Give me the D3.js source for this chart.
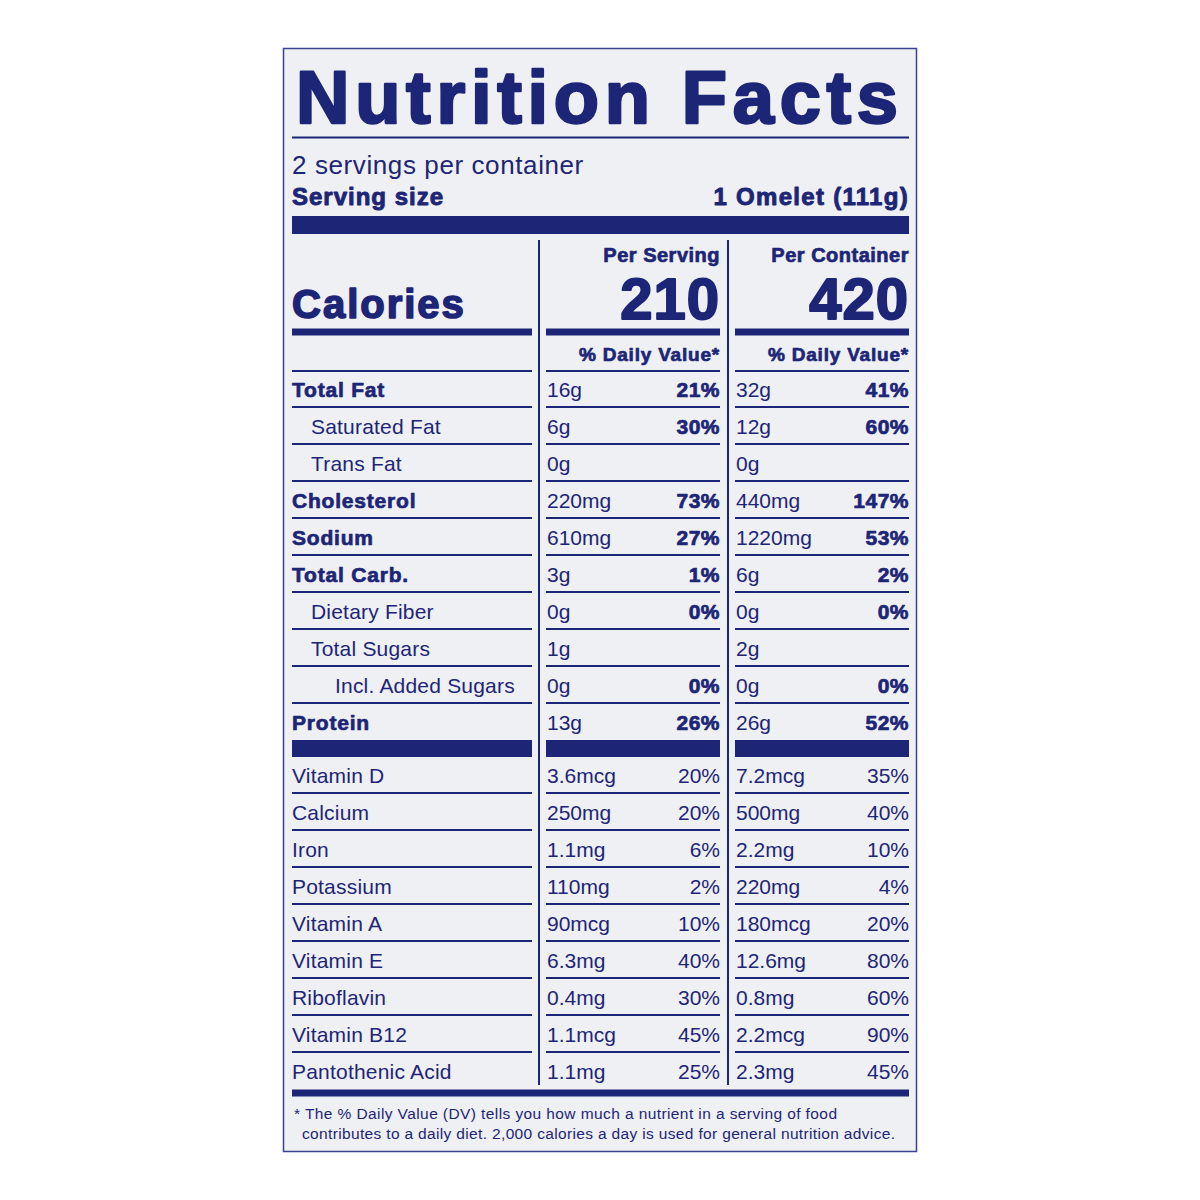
<!DOCTYPE html>
<html lang="en">
<head>
<meta charset="UTF-8">
<script src="https://d3js.org/d3.v7.min.js"></script>
<style>
  body { margin: 0; background: #fff; }
  svg { display: block; }
  text { font-family: "Liberation Sans", Arial, sans-serif; fill: #1d2577; }
</style>
</head>
<body>
<div id="chart"></div>
<script>
  // nutrient rows
  const nutrients = ['Total Fat', 'Saturated Fat', 'Trans Fat', 'Cholesterol', 'Sodium', 'Total Carb.',
    'Dietary Fiber', 'Total Sugars', 'Incl. Added Sugars', 'Protein'];
  const indent = [0, 1, 1, 0, 0, 0, 1, 1, 2, 0];
  const servingAmt = ['16g', '6g', '0g', '220mg', '610mg', '3g', '0g', '1g', '0g', '13g'];
  const servingDV = ['21%', '30%', '', '73%', '27%', '1%', '0%', '', '0%', '26%'];
  const containerAmt = ['32g', '12g', '0g', '440mg', '1220mg', '6g', '0g', '2g', '0g', '26g'];
  const containerDV = ['41%', '60%', '', '147%', '53%', '2%', '0%', '', '0%', '52%'];

  // vitamins & minerals
  const vitamins = ['Vitamin D', 'Calcium', 'Iron', 'Potassium', 'Vitamin A', 'Vitamin E', 'Riboflavin', 'Vitamin B12', 'Pantothenic Acid'];
  const vitServingAmt = ['3.6mcg', '250mg', '1.1mg', '110mg', '90mcg', '6.3mg', '0.4mg', '1.1mcg', '1.1mg'];
  const vitServingDV = ['20%', '20%', '6%', '2%', '10%', '40%', '30%', '45%', '25%'];
  const vitContainerAmt = ['7.2mcg', '500mg', '2.2mg', '220mg', '180mcg', '12.6mg', '0.8mg', '2.2mcg', '2.3mg'];
  const vitContainerDV = ['35%', '40%', '10%', '4%', '20%', '80%', '60%', '90%', '45%'];

  const navy = '#1d2577';
  const svg = d3.select('#chart').append('svg').attr('width', 1200).attr('height', 1200);

  // panel
  svg.append('rect').attr('x', 283.5).attr('y', 48.5).attr('width', 633).attr('height', 1103)
    .attr('fill', '#eff0f4').attr('stroke', '#3a4290').attr('stroke-width', 1.5);

  const L = 292, R = 909;
  const cols = [[292, 532], [546, 720], [735, 909]];

  function line(x1, x2, y, w) {
    svg.append('rect').attr('x', x1).attr('y', y - w / 2).attr('width', x2 - x1).attr('height', w).attr('fill', navy);
  }
  function txt(x, y, s, size, weight, anchor, stroke, spacing) {
    const t = svg.append('text').attr('x', x).attr('y', y).attr('font-size', size)
      .attr('font-weight', weight || 'normal').attr('text-anchor', anchor || 'start').text(s);
    if (stroke) t.style('stroke', navy).style('stroke-width', stroke).style('stroke-linejoin', 'round');
    if (spacing) t.style('letter-spacing', spacing + 'px');
    return t;
  }

  txt(296, 123, 'Nutrition Facts', 74, 'bold', 'start', 2.5).attr('textLength', 602);
  line(L, R, 137.5, 2);
  txt(292, 174, '2 servings per container', 26, 'normal', 'start', 0, 0.6);
  txt(292, 205, 'Serving size', 24, 'bold', 'start', 0.9, 1);
  txt(R, 205, '1 Omelet (111g)', 24, 'bold', 'end', 0.9, 1.3);
  line(L, R, 225, 18);

  // vertical dividers
  [539, 728].forEach(x => svg.append('rect').attr('x', x - 1).attr('y', 240).attr('width', 2).attr('height', 845).attr('fill', navy));

  txt(720, 262, 'Per Serving', 20, 'bold', 'end', 0.7, 0.5);
  txt(909, 262, 'Per Container', 20, 'bold', 'end', 0.7, 0.5);
  txt(292, 318, 'Calories', 40, 'bold', 'start', 1.6, 2);
  txt(720, 319, '210', 58, 'bold', 'end', 2, 1);
  txt(909, 319, '420', 58, 'bold', 'end', 2, 1);
  cols.forEach(c => line(c[0], c[1], 332, 7));
  txt(720, 361, '% Daily Value*', 19, 'bold', 'end', 0.7, 0.8);
  txt(909, 361, '% Daily Value*', 19, 'bold', 'end', 0.7, 0.8);
  cols.forEach(c => line(c[0], c[1], 371, 2));

  const y1 = d3.scaleBand().domain(nutrients).range([371, 741]);
  nutrients.forEach((n, i) => {
    const yb = y1(n) + 26;
    const bold = indent[i] === 0;
    txt(292 + indent[i] * 19 + (indent[i] === 2 ? 5 : 0), yb, n, 21, bold ? 'bold' : 'normal', 'start', bold ? 0.7 : 0, bold ? 0.8 : 0.2);
    txt(547, yb, servingAmt[i], 21);
    txt(720, yb, servingDV[i], 21, 'bold', 'end', 0.7, 0.5);
    txt(736, yb, containerAmt[i], 21);
    txt(909, yb, containerDV[i], 21, 'bold', 'end', 0.7, 0.5);
    if (i < nutrients.length - 1) cols.forEach(c => line(c[0], c[1], y1(n) + y1.bandwidth() - 1, 2));
  });
  cols.forEach(c => line(c[0], c[1], 748.5, 17));

  const y2 = d3.scaleBand().domain(vitamins).range([757, 1090]);
  vitamins.forEach((n, i) => {
    const yb = y2(n) + 26;
    txt(292, yb, n, 21, 'normal', 'start', 0, 0.2);
    txt(547, yb, vitServingAmt[i], 21);
    txt(720, yb, vitServingDV[i], 21, 'normal', 'end');
    txt(736, yb, vitContainerAmt[i], 21);
    txt(909, yb, vitContainerDV[i], 21, 'normal', 'end');
    if (i < vitamins.length - 1) cols.forEach(c => line(c[0], c[1], y2(n) + y2.bandwidth() - 1, 2));
  });
  line(L, R, 1093, 7);

  txt(294, 1119, '* The % Daily Value (DV) tells you how much a nutrient in a serving of food', 15.5).attr('textLength', 543);
  txt(302, 1139, 'contributes to a daily diet. 2,000 calories a day is used for general nutrition advice.', 15.5).attr('textLength', 593);
</script>
</body>
</html>
